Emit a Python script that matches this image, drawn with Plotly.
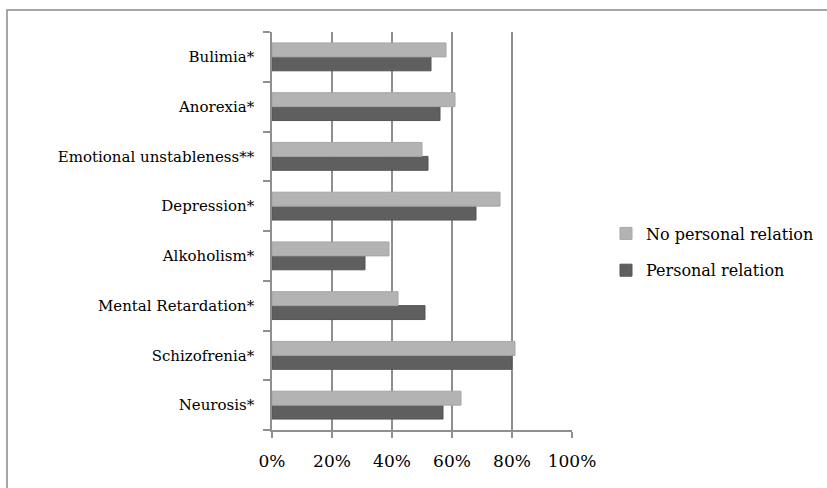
import plotly.graph_objects as go

# Categories listed bottom to top, as drawn on the y axis
categories = [
    "Neurosis*",
    "Schizofrenia*",
    "Mental Retardation*",
    "Alkoholism*",
    "Depression*",
    "Emotional unstableness**",
    "Anorexia*",
    "Bulimia*",
]
no_personal_relation = [63, 81, 42, 39, 76, 50, 61, 58]
personal_relation = [57, 80, 51, 31, 68, 52, 56, 53]

x_ticks = [0, 20, 40, 60, 80, 100]
x_tick_labels = ["0%", "20%", "40%", "60%", "80%", "100%"]

W, H = 827, 488
ML, MR, MT, MB = 272, 255, 32, 58
PW, PH = W - ML - MR, H - MT - MB

font_family = "DejaVu Serif"

fig = go.Figure()
fig.add_trace(go.Bar(
    y=categories, x=personal_relation, orientation="h",
    name="Personal relation", legendgroup="b", legendrank=2,
    marker=dict(color="#5f5f5f", line=dict(color="#555555", width=1)),
))
fig.add_trace(go.Bar(
    y=categories, x=no_personal_relation, orientation="h",
    name="No personal relation", legendgroup="a", legendrank=1,
    marker=dict(color="#b3b3b3", line=dict(color="#a6a6a6", width=1)),
))


def px_x(p):
    return (p - ML) / PW


def px_y(p):
    return (H - MB - p) / PH


# Outer chart frame
fig.add_shape(
    type="rect", xref="paper", yref="paper",
    x0=px_x(7), x1=px_x(W + 10), y0=px_y(H + 10), y1=px_y(10),
    line=dict(color="#8a8a8a", width=1.5), fillcolor="rgba(0,0,0,0)",
    layer="below",
)

fig.update_layout(
    width=W, height=H,
    margin=dict(l=ML, r=MR, t=MT, b=MB, autoexpand=False),
    paper_bgcolor="white", plot_bgcolor="white",
    barmode="group", bargap=0.44, bargroupgap=0,
    font=dict(family=font_family, size=15, color="#000000"),
    showlegend=True,
    legend=dict(
        x=px_x(606), y=px_y(252), xanchor="left", yanchor="middle",
        traceorder="grouped", tracegroupgap=13,
        font=dict(family=font_family, size=16, color="#000000"),
        bgcolor="rgba(0,0,0,0)", itemwidth=30,
    ),
    xaxis=dict(
        range=[0, 100], tickvals=x_ticks, ticktext=x_tick_labels,
        showgrid=True, gridcolor="#8f8f8f", gridwidth=1.5,
        showline=True, linecolor="#8f8f8f", linewidth=1.5,
        ticks="outside", ticklen=6, tickcolor="#8f8f8f", tickwidth=1.5,
        ticklabelstandoff=9,
        zeroline=False, fixedrange=True,
        tickfont=dict(family=font_family, size=17, color="#000000"),
    ),
    yaxis=dict(
        categoryorder="array", categoryarray=categories,
        showgrid=False, showline=True, linecolor="#8f8f8f", linewidth=1.5,
        ticks="outside", ticklen=7, tickcolor="#8f8f8f", tickwidth=1.5,
        tickson="boundaries", ticklabelstandoff=13,
        zeroline=False, fixedrange=True,
        tickfont=dict(family=font_family, size=15, color="#000000"),
    ),
)

fig.write_html("out.html")
